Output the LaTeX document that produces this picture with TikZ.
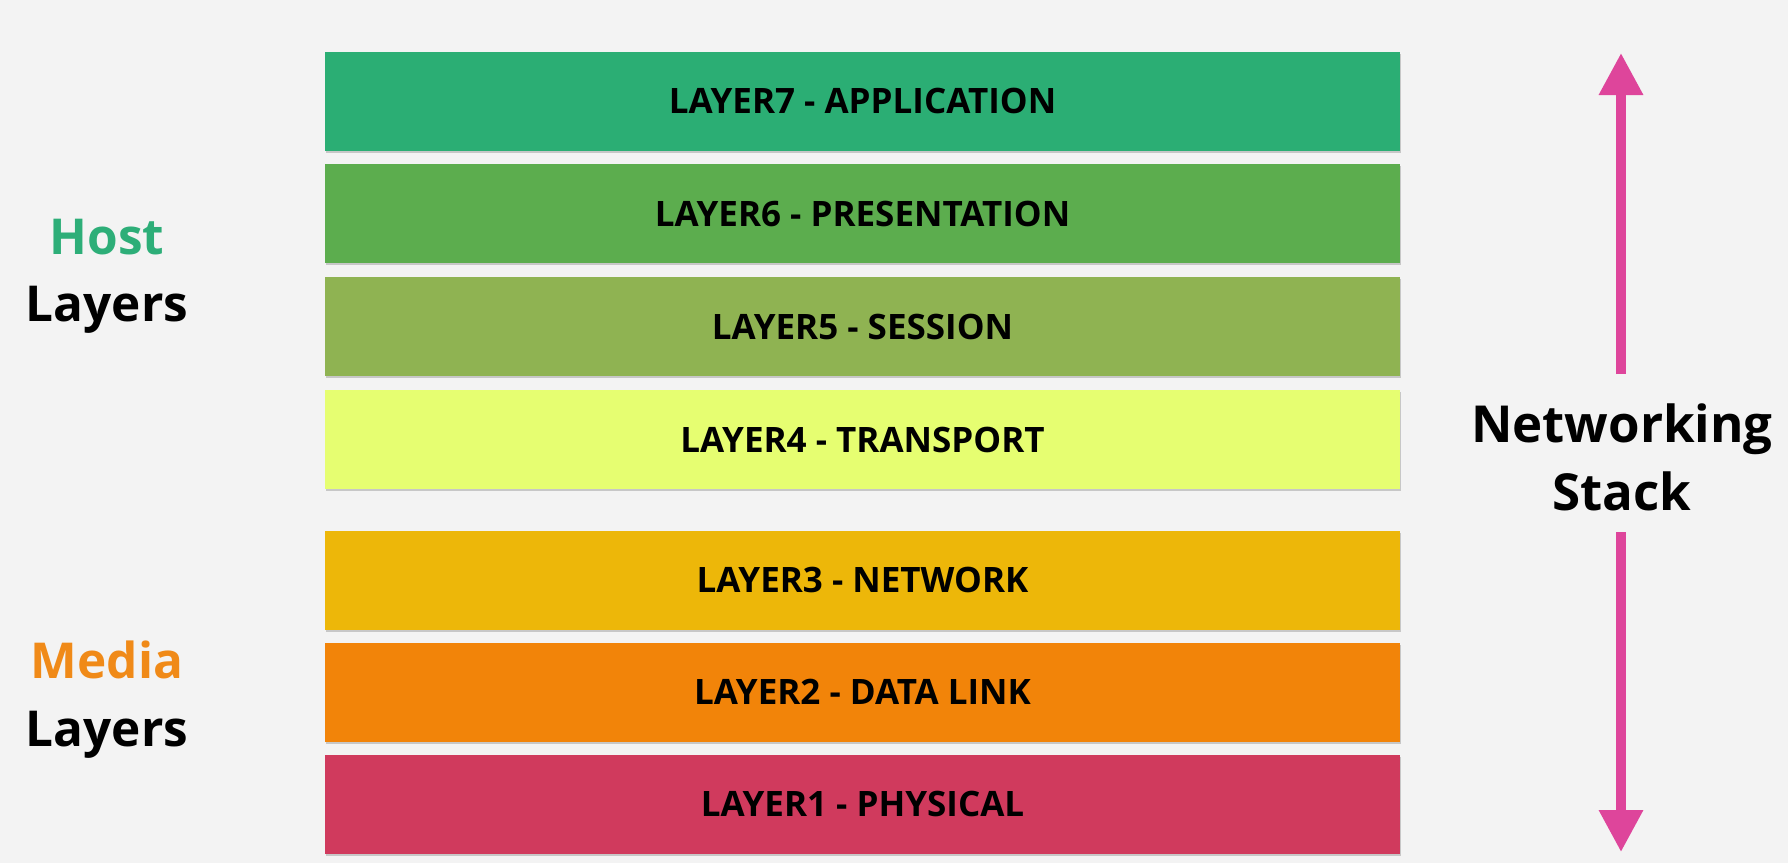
\documentclass[tikz,border=0pt]{standalone}
\usepackage{fontspec}
\setmainfont{Open Sans}
\usetikzlibrary{arrows.meta,shadows}
\definecolor{bg}{HTML}{F3F3F3}
\definecolor{cseven}{HTML}{2BAE74}
\definecolor{csix}{HTML}{5CAD4E}
\definecolor{cfive}{HTML}{8FB352}
\definecolor{cfour}{HTML}{E6FE71}
\definecolor{cthree}{HTML}{EDB709}
\definecolor{ctwo}{HTML}{F28409}
\definecolor{cone}{HTML}{D03A5D}
\definecolor{arrowpink}{HTML}{DE459B}
\definecolor{hostgreen}{HTML}{2DAE78}
\definecolor{mediaorange}{HTML}{F08A18}
\tikzset{
  layerbox/.style={rectangle, minimum width=1075pt, minimum height=99pt, inner sep=0pt,
    font=\fontsize{35pt}{40pt}\selectfont\bfseries, text=black,
    drop shadow={shadow xshift=0.5pt, shadow yshift=-2pt, opacity=0.18, fill=black}},
  sidelabel/.style={anchor=base, inner sep=0pt, font=\fontsize{49.5pt}{60pt}\selectfont\bfseries},
  stacklabel/.style={anchor=base, inner sep=0pt, font=\fontsize{51pt}{60pt}\selectfont\bfseries},
  stackarrow/.style={draw=arrowpink, line width=9.5pt, -{Triangle[length=42pt,width=42pt]}}
}
\begin{document}
\begin{tikzpicture}[x=1pt,y=-1pt]
\fill[bg] (0,0) rectangle (1788,863);
\useasboundingbox (0,0) rectangle (1788,863);
% layer boxes
\node[layerbox, fill=cseven] (l7) at (862.5,101) {LAYER7 - APPLICATION};
\node[layerbox, fill=csix]   (l6) at (862.5,213.5) {LAYER6 - PRESENTATION};
\node[layerbox, fill=cfive]  (l5) at (862.5,326.5) {LAYER5 - SESSION};
\node[layerbox, fill=cfour]  (l4) at (862.5,439.5) {LAYER4 - TRANSPORT};
\node[layerbox, fill=cthree] (l3) at (862.5,580) {LAYER3 - NETWORK};
\node[layerbox, fill=ctwo]   (l2) at (862.5,692) {LAYER2 - DATA LINK};
\node[layerbox, fill=cone]   (l1) at (862.5,804) {LAYER1 - PHYSICAL};
% side labels
\node[sidelabel, text=hostgreen] (host) at (107,254) {Host};
\node[sidelabel, text=black] (hostlayers) at (107,321) {Layers};
\node[sidelabel, text=mediaorange] (media) at (107,678) {Media};
\node[sidelabel, text=black] (medialayers) at (107,746) {Layers};
\node[stacklabel, text=black] (net) at (1622,442) {Networking};
\node[stacklabel, text=black] (stack) at (1622,510) {Stack};
% arrows
\coordinate (upstart) at (1621,374);
\coordinate (uptip) at (1621,53);
\coordinate (downstart) at (1621,532);
\coordinate (downtip) at (1621,852);
\draw[stackarrow] (upstart) -- (uptip);
\draw[stackarrow] (downstart) -- (downtip);
\end{tikzpicture}
\end{document}
